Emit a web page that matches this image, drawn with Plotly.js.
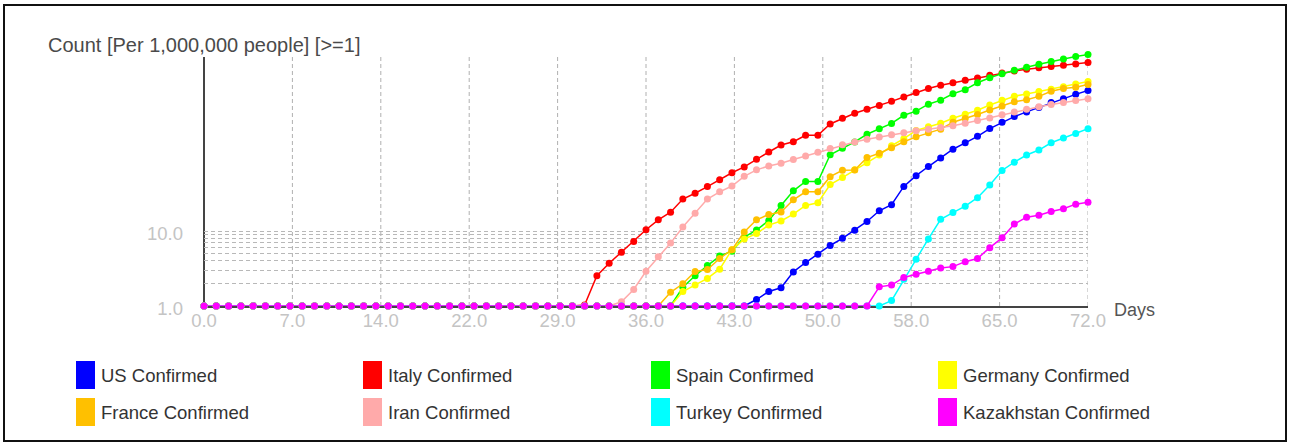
<!DOCTYPE html>
<html>
<head>
<meta charset="utf-8">
<script src="https://cdn.plot.ly/plotly-3.0.1.min.js"></script>
<style>
html,body{margin:0;padding:0;background:#fff;}
#chart{position:absolute;left:0;top:0;width:1292px;height:445px;}
#frame{position:absolute;left:3px;top:4px;width:1284px;height:438px;border:2px solid #111;box-sizing:border-box;pointer-events:none;}
</style>
</head>
<body>
<div id="chart"></div>
<div id="frame"></div>
<script>
// ---------- data ----------
const days = [0,1,2,3,4,5,6,7,8,9,10,11,12,13,14,15,16,17,18,19,20,21,22,23,24,25,26,27,28,29,30,31,32,33,34,35,36,37,38,39,40,41,42,43,44,45,46,47,48,49,50,51,52,53,54,55,56,57,58,59,60,61,62,63,64,65,66,67,68,69,70,71,72];

const seriesNames = ["US Confirmed","Italy Confirmed","Spain Confirmed","Germany Confirmed","France Confirmed","Iran Confirmed","Turkey Confirmed","Kazakhstan Confirmed"];

const usVals = [1,1,1,1,1,1,1,1,1,1,1,1,1,1,1,1,1,1,1,1,1,1,1,1,1,1,1,1,1,1,1,1,1,1,1,1,1,1,1,1,1,1,1,1,1,
  1.22,1.56,1.75,2.85,3.8,4.91,6.41,7.98,10.2,13.4,18.6,22.4,39.3,54.7,72.4,93.8,123,150,183,232,281,335,387,444,515,582,664,749];

const italyVals = [1,1,1,1,1,1,1,1,1,1,1,1,1,1,1,1,1,1,1,1,1,1,1,1,1,1,1,1,1,1,1,
  1.03,2.53,3.71,5.19,7.26,10.4,14.1,17.8,26.7,31.9,39.1,48.1,59.8,71.6,90.6,113,140,155,189,189,267,319,372,421,472,535,613,700,796,877,946,1023,1099,1189,1276,1362,1439,1497,1556,1625,1690,1758];

const spainVals = [1,1,1,1,1,1,1,1,1,1,1,1,1,1,1,1,1,1,1,1,1,1,1,1,1,1,1,1,1,1,1,1,1,1,1,1,1,1,1,
  1.78,2.53,3.46,4.63,5.39,8.27,10.3,13.8,21.9,34.3,45.8,45.8,104,127,154,195,230,272,349,396,491,555,676,766,948,1104,1253,1393,1521,1667,1816,1968,2118,2250];

const germanyVals = [1,1,1,1,1,1,1,1,1,1,1,1,1,1,1,1,1,1,1,1,1,1,1,1,1,1,1,1,1,1,1,1,1,1,1,1,1,1,1,
  1.56,1.9,2.33,3.1,5.64,7.8,9.26,12.0,13.6,16.8,21.9,23.8,41.7,51.6,65.4,81.5,103,137,170,219,245,274,318,361,408,479,553,627,673,724,776,841,914,982];

const franceVals = [1,1,1,1,1,1,1,1,1,1,1,1,1,1,1,1,1,1,1,1,1,1,1,1,1,1,1,1,1,1,1,1,1,1,1,1,1,1,
  1.52,1.98,2.88,3.07,4.3,5.64,9.73,14.1,16.6,17.9,26.1,33.3,33.3,53,64.5,65,95.3,109,129,155,180,204,228,282,316,357,411,463,528,562,624,728,794,824,896];

const iranVals = [1,1,1,1,1,1,1,1,1,1,1,1,1,1,1,1,1,1,1,1,1,1,1,1,1,1,1,1,1,1,1,1,1,1,
  1.14,1.66,2.9,4.55,6.9,11.3,17.3,26.7,33.3,39.8,53.5,65.4,73.5,80.1,89.7,100,112,126,141,154,167,179,192,204,217,227,239,254,273,297,322,355,387,419,453,486,518,548,578];

const turkeyVals = [1,1,1,1,1,1,1,1,1,1,1,1,1,1,1,1,1,1,1,1,1,1,1,1,1,1,1,1,1,1,1,1,1,1,1,1,1,1,1,1,1,1,1,1,1,1,1,1,1,1,1,1,1,1,1,1,
  1.18,2.27,4.2,7.83,14.3,17.6,21.4,27.8,41.1,64.1,82.8,103,120,150,174,200,231];

const kazakhstanVals = [1,1,1,1,1,1,1,1,1,1,1,1,1,1,1,1,1,1,1,1,1,1,1,1,1,1,1,1,1,1,1,1,1,1,1,1,1,1,1,1,1,1,1,1,1,1,1,1,1,1,1,1,1,1,1,
  1.8,1.9,2.4,2.65,2.9,3.2,3.35,3.9,4.3,6.0,8.1,12.4,15.3,16.2,18.2,19.8,22.8,24.2];

const xTickVals = [0,7.2,14.4,21.6,28.8,36,43.2,50.4,57.6,64.8,72];
const xTickText = ["0.0","7.0","14.0","22.0","29.0","36.0","43.0","50.0","58.0","65.0","72.0"];
const yTickVals = [1,10];
const yTickText = ["1.0","10.0"];
const yMinorVals = [2,3,4,5,6,7,8,9];

// ---------- styles ----------
const seriesValues = [usVals,italyVals,spainVals,germanyVals,franceVals,iranVals,turkeyVals,kazakhstanVals];
const seriesColors = ["#0000ff","#ff0000","#00ff00","#ffff00","#ffc000","#ffaaaa","#00ffff","#ff00ff"];

// plot box in pixels (decade = 75 px); axis frame drawn up to y=57
const W=1292, H=445, L=204, R=1088, T=54, B=306, AXTOP=57;
const YMAX = (B - T) / 75;
const px2x = p => (p - L) / (R - L);
const px2y = p => (B - p) / (B - T);
const FONT = "Liberation Sans, Arial, sans-serif";

const traces = seriesNames.map((n,i) => ({
  type:"scatter", mode:"lines+markers", name:n,
  x: days, y: seriesValues[i],
  line:{color:seriesColors[i], width:1.5},
  marker:{color:seriesColors[i], size:7},
  cliponaxis:false, hoverinfo:"x+y+name"
}));

const shapes = [];
// vertical dashed grid lines at the x ticks (stop at axis top)
xTickVals.slice(1).forEach(v => {
  shapes.push({type:"line", xref:"x", yref:"paper", x0:v, x1:v, y0:0, y1:px2y(AXTOP),
    line:{color:"#b0b0b0", width:1, dash:"4px,3px"}, layer:"below"});
});
// y axis line
shapes.push({type:"line", xref:"paper", yref:"paper", x0:0, x1:0, y0:0, y1:px2y(AXTOP),
  line:{color:"#444", width:2}, layer:"below"});

const annotations = [];
annotations.push({xref:"paper", yref:"paper", x:0, y:px2y(45), xanchor:"center", yanchor:"middle",
  text:"Count [Per 1,000,000 people] [>=1]", showarrow:false, font:{family:FONT, size:20, color:"#4a4a4a"}});
annotations.push({xref:"paper", yref:"paper", x:px2x(1112), y:px2y(310), xanchor:"left", yanchor:"middle",
  text:"Days", showarrow:false, font:{family:FONT, size:18, color:"#555"}});

const legX = [76, 363, 651, 938];
const legY = [361, 398];
seriesNames.forEach((n,i) => {
  const col = i % 4, row = Math.floor(i/4);
  const sx = legX[col], sy = legY[row];
  shapes.push({type:"rect", xref:"paper", yref:"paper", layer:"above",
    x0:px2x(sx), x1:px2x(sx+19), y0:px2y(sy), y1:px2y(sy+28),
    fillcolor:seriesColors[i], line:{width:0}});
  annotations.push({xref:"paper", yref:"paper", x:px2x(sx+23), y:px2y(sy+14), xanchor:"left", yanchor:"middle",
    text:n, showarrow:false, font:{family:FONT, size:18.5, color:"#333"}});
});

const layout = {
  width:W, height:H,
  margin:{l:L, r:W-R, t:T, b:H-B, pad:0},
  paper_bgcolor:"#fff", plot_bgcolor:"#fff",
  showlegend:false,
  font:{family:FONT},
  xaxis:{
    range:[0,72], tickmode:"array", tickvals:xTickVals, ticktext:xTickText,
    showgrid:false, zeroline:false, showline:true, linecolor:"#444", linewidth:2,
    layer:"below traces", ticks:"", ticklabelstandoff:-3,
    tickfont:{family:FONT, size:18.5, color:"#c4c4c4"}, fixedrange:true
  },
  yaxis:{
    type:"log", range:[0,YMAX], tickmode:"array", tickvals:yTickVals, ticktext:yTickText,
    showgrid:true, gridcolor:"#b8b8b8", gridwidth:1, griddash:"4px,3px",
    minor:{tickmode:"array", tickvals:yMinorVals, showgrid:true, gridcolor:"#b8b8b8", gridwidth:1, griddash:"4px,3px", ticks:""},
    zeroline:false, showline:false,
    layer:"below traces", ticks:"", ticklabelstandoff:20, ticklabelshift:3,
    tickfont:{family:FONT, size:18.5, color:"#c4c4c4"}, fixedrange:true
  },
  shapes:shapes,
  annotations:annotations
};

Plotly.newPlot("chart", traces, layout, {displayModeBar:false, staticPlot:true});
</script>
</body>
</html>
